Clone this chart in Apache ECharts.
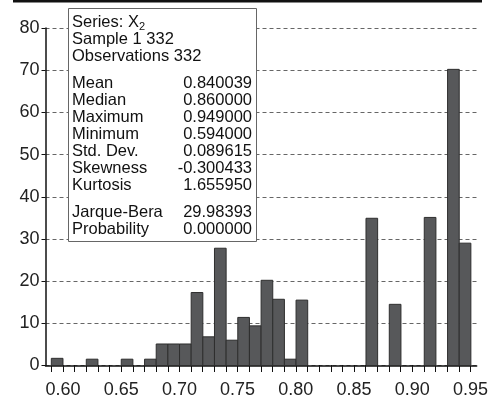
<!DOCTYPE html>
<html>
<head>
<meta charset="utf-8">
<script src="https://cdn.jsdelivr.net/npm/echarts@6/dist/echarts.min.js"></script>
<style>
html,body{margin:0;padding:0;background:#fff;}
#chart{width:491px;height:399px;}
</style>
</head>
<body>
<div id="chart"></div>
<script>
// ---- data ----
const binStarts = [0.59, 0.62, 0.65, 0.67, 0.68, 0.69, 0.70, 0.71, 0.72, 0.73, 0.74, 0.75, 0.76, 0.77, 0.78, 0.79, 0.80, 0.86, 0.88, 0.91, 0.93, 0.94];
const binCounts = [1.7, 1.5, 1.5, 1.5, 5.1, 5.1, 5.1, 17.3, 6.8, 27.8, 6.0, 11.4, 9.4, 20.2, 15.7, 1.5, 15.5, 34.9, 14.5, 35.1, 70.2, 29.0];
const binWidth = 0.01;
const seriesLabel = 'Series: X';
const seriesSub = '2';
const headerLines = ['Sample 1 332', 'Observations 332'];
const statNames = ['Mean', 'Median', 'Maximum', 'Minimum', 'Std. Dev.', 'Skewness', 'Kurtosis'];
const statValues = ['0.840039', '0.860000', '0.949000', '0.594000', '0.089615', '-0.300433', '1.655950'];
const testNames = ['Jarque-Bera', 'Probability'];
const testValues = ['29.98393', '0.000000'];
const yMin = 0, yMax = 80, yStep = 10;
const xTickMin = 0.59, xTickMax = 0.95, xTickStep = 0.01, xLabelEvery = 5;

// ---- layout ----
const W = 491, H = 399;
const gridLeft = 45.5, gridRight = 14.3, gridTop = 28, gridBottom = 33.5;
const xMin = 0.585, xMax = 0.955;
const plotW = W - gridLeft - gridRight;
const pxPerUnit = plotW / (xMax - xMin);
const grid1Left = gridLeft + (xTickMin - xMin) * pxPerUnit;
const grid1Right = gridRight + (xMax - xTickMax) * pxPerUnit;
const FONT = '"Liberation Sans", Arial, Helvetica, sans-serif';
const statFont = '16.5px ' + FONT;

const barData = binStarts.map((b, i) => [b, b + binWidth, binCounts[i]]);

const chart = echarts.init(document.getElementById('chart'), null, {renderer: 'canvas'});

const boxX = 68.5, boxY = 8.5, boxW = 188, boxH = 233;
const textX = 72, valX = 252, lh = 17;

chart.setOption({
  animation: false,
  backgroundColor: '#fff',
  grid: [
    {left: gridLeft, right: gridRight, top: gridTop, bottom: gridBottom},
    {left: grid1Left, right: grid1Right, top: gridTop, bottom: gridBottom}
  ],
  xAxis: [
    {
      type: 'value', gridIndex: 0, min: xMin, max: xMax,
      axisLine: {show: true, onZero: false, lineStyle: {color: '#111', width: 1.5}},
      axisTick: {show: false}, axisLabel: {show: false}, splitLine: {show: false}
    },
    {
      type: 'value', gridIndex: 1, min: xTickMin, max: xTickMax, interval: xTickStep,
      axisLine: {show: false},
      axisTick: {show: true, length: 7, lineStyle: {color: '#111', width: 1}},
      axisLabel: {
        show: true, margin: 16, fontSize: 18, color: '#222', fontFamily: FONT,
        formatter: function (v) {
          const k = Math.round(v * 100);
          return (k % xLabelEvery === 0) ? (k / 100).toFixed(2) : '';
        }
      },
      splitLine: {show: false}
    }
  ],
  yAxis: [
    {
      type: 'value', gridIndex: 0, min: yMin, max: yMax, interval: yStep,
      axisLine: {show: true, lineStyle: {color: '#111', width: 1.5}},
      axisTick: {show: true, length: 4, lineStyle: {color: '#111'}},
      axisLabel: {margin: 6, fontSize: 18, color: '#222', fontFamily: FONT},
      splitLine: {show: true, lineStyle: {color: '#666', type: [4, 3], width: 1}}
    },
    {type: 'value', gridIndex: 1, min: yMin, max: yMax, show: false}
  ],
  series: [{
    type: 'custom',
    xAxisIndex: 0, yAxisIndex: 0,
    data: barData,
    renderItem: function (params, api) {
      const p0 = api.coord([api.value(0), 0]);
      const p1 = api.coord([api.value(1), api.value(2)]);
      return {
        type: 'rect',
        shape: {x: p0[0], y: p1[1], width: p1[0] - p0[0], height: p0[1] - p1[1]},
        style: {fill: '#57585a', stroke: '#2e2e2e', lineWidth: 1}
      };
    }
  }],
  graphic: [
    {type: 'line', z: 100, shape: {x1: 13, y1: 1.3, x2: 482, y2: 1.3}, style: {stroke: '#111', lineWidth: 2.5}},
    {type: 'rect', z: 100, shape: {x: boxX, y: boxY, width: boxW, height: boxH}, style: {fill: '#fff', stroke: '#666', lineWidth: 1}},
    {
      type: 'text', z: 101, x: textX, y: 14,
      style: {
        text: '{a|' + seriesLabel + '}{s|' + seriesSub + '}\n{a|' + headerLines.join('}\n{a|') + '}',
        fill: '#111', font: statFont, lineHeight: lh, verticalAlign: 'top',
        rich: {
          a: {fontSize: 16.5, fontFamily: FONT, lineHeight: lh, fill: '#111'},
          s: {fontSize: 11, fontFamily: FONT, lineHeight: lh, fill: '#111', padding: [9, 0, 0, 0]}
        }
      }
    },
    {
      type: 'text', z: 101, x: textX, y: 75,
      style: {text: statNames.join('\n'), fill: '#111', font: statFont, lineHeight: lh, verticalAlign: 'top'}
    },
    {
      type: 'text', z: 101, x: valX, y: 75,
      style: {text: statValues.join('\n'), fill: '#111', font: statFont, lineHeight: lh, verticalAlign: 'top', align: 'right'}
    },
    {
      type: 'text', z: 101, x: textX, y: 204,
      style: {text: testNames.join('\n'), fill: '#111', font: statFont, lineHeight: lh, verticalAlign: 'top'}
    },
    {
      type: 'text', z: 101, x: valX, y: 204,
      style: {text: testValues.join('\n'), fill: '#111', font: statFont, lineHeight: lh, verticalAlign: 'top', align: 'right'}
    }
  ]
});
</script>
</body>
</html>
